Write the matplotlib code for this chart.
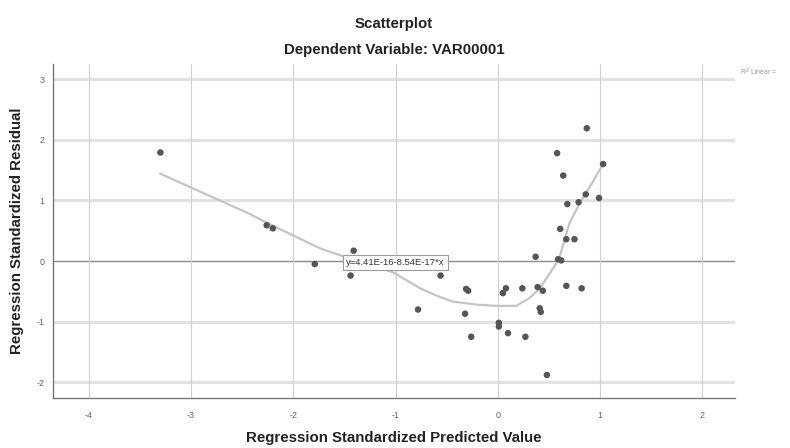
"""SPSS-style residual scatterplot: standardized residual vs predicted value,
with the loess fit line and the linear fit label."""

import matplotlib

matplotlib.use("Agg")  # headless
import matplotlib.pyplot as plt  # noqa: E402

plt.rcParams["font.family"] = ["Liberation Sans", "DejaVu Sans"]

# standardized predicted value / standardized residual
pred = [-3.30, -2.26, -2.20, -1.79, -1.41, -1.44, -0.56, -0.78, -0.31, -0.29,
        -0.32, -0.26, 0.01, 0.01, 0.05, 0.08, 0.24, 0.10, 0.27, 0.37,
        0.39, 0.44, 0.41, 0.42, 0.48, 0.87, 0.58, 0.64, 1.03, 0.68,
        0.79, 0.86, 0.99, 0.61, 0.67, 0.75, 0.59, 0.62, 0.67, 0.82]
resid = [1.79, 0.59, 0.54, -0.05, 0.17, -0.24, -0.24, -0.80, -0.46, -0.49,
         -0.87, -1.25, -1.02, -1.08, -0.53, -0.45, -0.45, -1.19, -1.25, 0.07,
         -0.43, -0.49, -0.78, -0.84, -1.88, 2.19, 1.78, 1.41, 1.60, 0.94,
         0.97, 1.10, 1.04, 0.53, 0.36, 0.36, 0.03, 0.01, -0.41, -0.45]

# loess fit line as drawn
fit_x = [-3.30, -2.43, -2.27, -1.74, -1.64, -1.02, -0.76, -0.60, -0.44,
         -0.20, -0.01, 0.18, 0.31, 0.41, 0.51, 0.60, 0.70, 0.80, 0.93, 1.03]
fit_y = [1.44, 0.78, 0.64, 0.21, 0.15, -0.19, -0.45, -0.57, -0.67,
         -0.72, -0.74, -0.74, -0.61, -0.45, -0.20, 0.04, 0.62, 0.95, 1.31, 1.60]

x_ticks = [-4, -3, -2, -1, 0, 1, 2]
y_ticks = [-2, -1, 0, 1, 2, 3]
fit_label = "y=4.41E-16-8.54E-17*x"

fig = plt.figure(figsize=(7.9, 4.48), dpi=100)
ax = fig.add_axes([0.0671, 0.1116, 0.8633, 0.7455])

ax.set_xlim(-4.35, 2.32)
ax.set_ylim(-2.26, 3.25)

for yv in y_ticks:
    if yv == 0:
        ax.axhline(yv, color="#8a8a8a", lw=1.0, zorder=1)
    else:
        ax.axhline(yv, color="#e2e2e2", lw=2.2, zorder=1)
for xv in x_ticks:
    ax.axvline(xv, color="#cfcfcf", lw=0.8, zorder=1)

ax.plot(fit_x, fit_y, color="#c4c4c4", lw=1.6, zorder=2,
        solid_joinstyle="round")
ax.scatter(pred, resid, s=22, color="#555555", edgecolors="none", zorder=3)

ax.text(-1.0, -0.02, fit_label, fontsize=6.8, color="#333333",
        ha="center", va="center", zorder=4,
        bbox=dict(boxstyle="square,pad=0.3", fc="white", ec="#9a9a9a", lw=0.8))

ax.set_xticks(x_ticks)
ax.set_yticks(y_ticks)
ax.set_xticklabels([str(v) for v in x_ticks])
ax.set_yticklabels([str(v) for v in y_ticks])
ax.tick_params(length=0, labelsize=6.5, labelcolor="#666666")
ax.tick_params(axis="x", pad=9)
ax.tick_params(axis="y", pad=6)

for side in ("top", "right"):
    ax.spines[side].set_visible(False)
for side in ("left", "bottom"):
    ax.spines[side].set_color("#777777")
    ax.spines[side].set_linewidth(1.0)

ax.set_xlabel("Regression Standardized Predicted Value", fontsize=10.8,
              fontweight="bold", color="#222222", labelpad=8)
ax.set_ylabel("Regression Standardized Residual", fontsize=10.8,
              fontweight="bold", color="#222222", labelpad=9)

fig.text(0.4987, 0.946, "Scatterplot", fontsize=10.8, fontweight="bold",
         color="#222222", ha="center", va="center")
fig.text(0.4987, 0.888, "Dependent Variable: VAR00001", fontsize=10.8,
         fontweight="bold", color="#222222", ha="center", va="center")
fig.text(0.937, 0.839, "R$^2$ Linear =", fontsize=5, color="#999999",
         ha="left", va="center")

fig.savefig("out.png", dpi=100)
plt.close(fig)
